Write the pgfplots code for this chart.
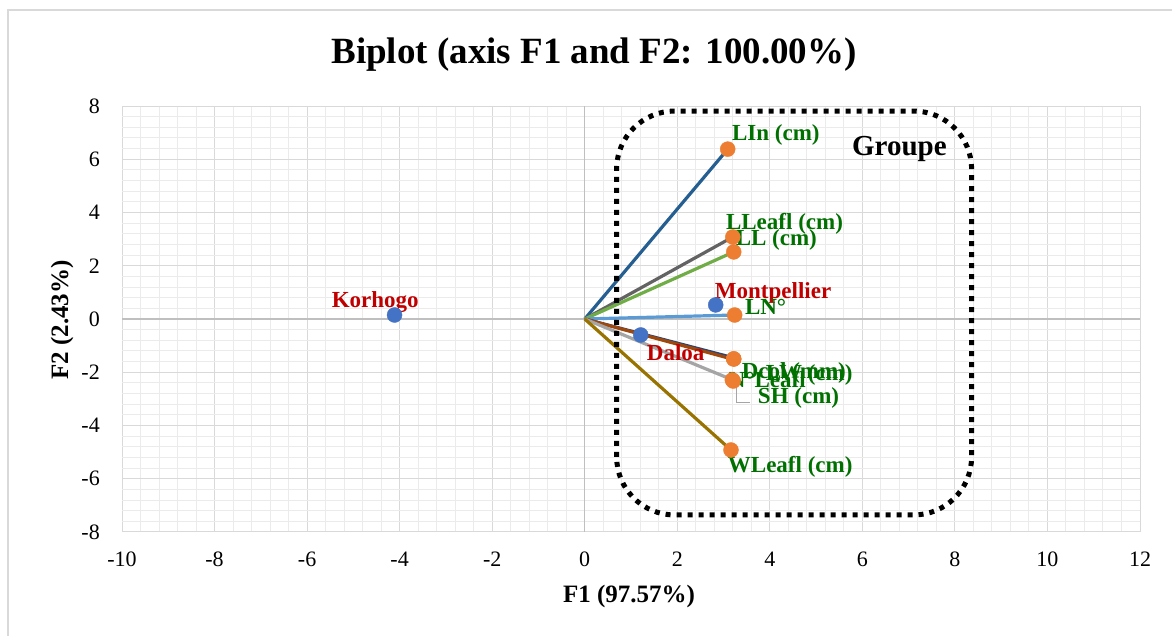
\documentclass[border=0pt]{standalone}
\usepackage{pgfplots}
\pgfplotsset{compat=1.18}
\usepackage{fontspec}
\setmainfont{Liberation Serif}
\definecolor{obsblue}{HTML}{4472C4}
\definecolor{varorange}{HTML}{ED7D31}
\definecolor{labred}{HTML}{C00000}
\definecolor{labgreen}{HTML}{007000}
\definecolor{cLIn}{HTML}{255E91}
\definecolor{cLLeafl}{HTML}{636363}
\definecolor{cLL}{HTML}{70AD47}
\definecolor{cLN}{HTML}{5B9BD5}
\definecolor{cDcol}{HTML}{264478}
\definecolor{cLW}{HTML}{9E480E}
\definecolor{cNL}{HTML}{A5A5A5}
\definecolor{cWL}{HTML}{997300}
\definecolor{majgrid}{HTML}{D9D9D9}
\definecolor{mingrid}{HTML}{EBEBEB}
\definecolor{zeroax}{HTML}{BFBFBF}
\definecolor{frame}{HTML}{D9D9D9}
\newcommand\lab{\fontsize{23bp}{27bp}\selectfont\bfseries}
\begin{document}
\begin{tikzpicture}[x=1bp,y=1bp]
\path[use as bounding box] (0bp,0bp) rectangle (1172bp,636bp);
\draw[frame, line width=1.5bp] (8bp,-10bp) -- (8bp,626bp) -- (1190bp,626bp);
\node[anchor=base, inner sep=0pt, font=\fontsize{37bp}{42bp}\selectfont\bfseries] at (594bp,572bp) {Biplot (axis F1 and F2: 100.00\%)};
\node[anchor=base, inner sep=0pt, font=\fontsize{25bp}{30bp}\selectfont\bfseries] at (629bp,34bp) {F1 (97.57\%)};
\node[rotate=90, anchor=base, inner sep=0pt, font=\fontsize{25bp}{30bp}\selectfont\bfseries] at (68bp,316bp) {F2 (2.43\%)};
\begin{axis}[
  at={(122bp,104bp)}, anchor=south west,
  scale only axis, width=1018bp, height=426bp,
  xmin=-10, xmax=12, ymin=-8, ymax=8,
  xtick={-10,-8,...,12}, ytick={-8,-6,...,8},
  minor x tick num=4, minor y tick num=4,
  grid=both,
  major grid style={majgrid, line width=1bp},
  minor grid style={mingrid, line width=1bp},
  axis line style={draw=none},
  major tick length=0pt, minor tick length=0pt,
  /pgf/number format/assume math mode=true,
  tick label style={font=\fontsize{22bp}{26bp}\selectfont, inner sep=0pt},
  xticklabel style={anchor=north},
  yticklabel style={anchor=east},
  xticklabel shift=20bp,
  yticklabel shift=22bp,
  clip=false,
]
\addplot[zeroax, line width=1.5bp] coordinates {(-10,0) (12,0)};
\addplot[zeroax, line width=1.5bp] coordinates {(0,-8) (0,8)};
% variable vectors
\addplot[cLIn, line width=3.2bp] coordinates {(0,0) (3.09,6.38)};
\addplot[cLLeafl, line width=3.2bp] coordinates {(0,0) (3.20,3.08)};
\addplot[cLL, line width=3.2bp] coordinates {(0,0) (3.22,2.52)};
\addplot[cLN, line width=3.2bp] coordinates {(0,0) (3.24,0.15)};
\addplot[cDcol, line width=3.2bp] coordinates {(0,0) (3.22,-1.46)};
\addplot[cLW, line width=3.2bp] coordinates {(0,0) (3.22,-1.52)};
\addplot[cNL, line width=3.2bp] coordinates {(0,0) (3.20,-2.29)};
\addplot[cWL, line width=3.2bp] coordinates {(0,0) (3.16,-4.92)};
% leader line for SH
\addplot[cNL, line width=1bp] coordinates {(3.285,-2.40) (3.285,-3.15) (3.57,-3.15)};
% group frame
\draw[black, line width=5bp, dash pattern=on 5bp off 6bp, rounded corners=58bp] (axis cs:0.69,-7.36) rectangle (axis cs:8.36,7.81);
% markers
\addplot[only marks, mark=*, mark size=7.5bp, color=obsblue] coordinates {(-4.11,0.15) (2.83,0.53) (1.21,-0.60)};
\addplot[only marks, mark=*, mark size=7.5bp, color=varorange] coordinates {(3.09,6.38) (3.20,3.08) (3.22,2.52) (3.24,0.15) (3.22,-1.50) (3.22,-1.50) (3.19,-2.29) (3.21,-2.33) (3.16,-4.92)};
% labels
\node[anchor=west, inner sep=0pt, labgreen, font=\lab] at (axis cs:3.18,6.91) {LIn (cm)};
\node[anchor=west, inner sep=0pt, labgreen, font=\lab] at (axis cs:3.05,3.57) {LLeafl (cm)};
\node[anchor=west, inner sep=0pt, labgreen, font=\lab] at (axis cs:3.26,2.97) {LL (cm)};
\node[anchor=west, inner sep=0pt, labred, font=\lab] at (axis cs:2.81,0.98) {Montpellier};
\node[anchor=west, inner sep=0pt, labgreen, font=\lab] at (axis cs:3.46,0.45) {LN°};
\node[anchor=west, inner sep=0pt, labred, font=\lab] at (axis cs:1.34,-1.28) {Daloa};
\node[anchor=west, inner sep=0pt, labred, font=\lab] at (axis cs:-5.47,0.64) {Korhogo};
\node[anchor=west, inner sep=0pt, labgreen, font=\lab] at (axis cs:3.11,-2.29) {N°Leafl};
\node[anchor=west, inner sep=0pt, labgreen, font=\lab] at (axis cs:3.39,-2.03) {Dcol (mm)};
\node[anchor=west, inner sep=0pt, labgreen, font=\lab] at (axis cs:3.91,-2.10) {LW (cm)};
\node[anchor=west, inner sep=0pt, labgreen, font=\lab] at (axis cs:3.74,-2.97) {SH (cm)};
\node[anchor=west, inner sep=0pt, labgreen, font=\lab] at (axis cs:3.09,-5.56) {WLeafl (cm)};
\node[inner sep=0pt, black, font=\fontsize{29bp}{33bp}\selectfont\bfseries] at (axis cs:6.80,6.38) {Groupe};
\end{axis}
\end{tikzpicture}
\end{document}
